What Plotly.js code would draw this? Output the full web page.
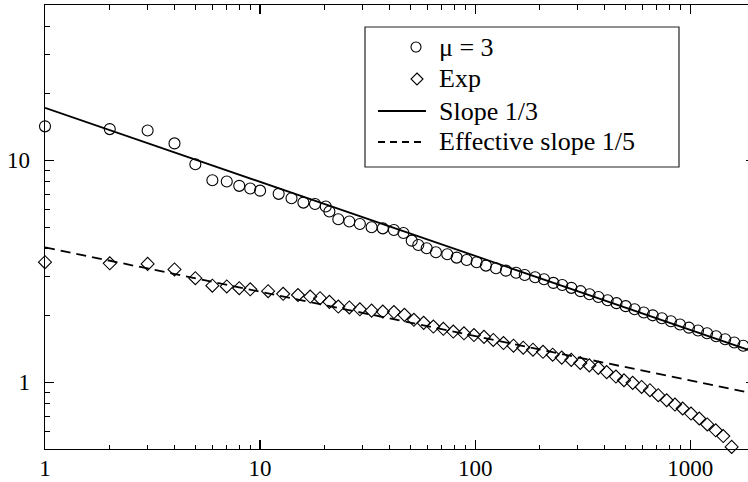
<!DOCTYPE html>
<html>
<head>
<meta charset="utf-8">
<script src="https://cdn.plot.ly/plotly-3.0.1.min.js"></script>
<style>
html, body { margin: 0; padding: 0; overflow: hidden; background: #fff; }
#chart { width: 760px; height: 482px; }
</style>
</head>
<body>
<div id="chart"></div>
<script>
// ---- data ----
var circX = [1,2,3,4,5,6,7,8,9,10,12.2,14.0,15.9,18.0,20.2,21.0,23.1,26.0,29.1,33.0,37.2,41.9,46.4,50.7,54.4,59.5,65.7,74.2,82.0,91.3,101.6,112.2,125,139,155,170,190,209,231,254,280,309,340,374,413,454,501,551,608,669,738,813,896,986,1087,1197,1319,1453,1602,1764];
var circY = [14.2,13.8,13.6,11.9,9.59,8.12,8.01,7.66,7.45,7.29,7.05,6.74,6.44,6.35,6.18,5.87,5.42,5.29,5.16,4.99,4.93,4.85,4.70,4.34,4.15,4.01,3.85,3.77,3.64,3.55,3.47,3.35,3.26,3.18,3.11,3.04,2.97,2.91,2.80,2.74,2.66,2.57,2.49,2.42,2.34,2.27,2.20,2.13,2.06,2.00,1.94,1.88,1.82,1.76,1.71,1.66,1.61,1.56,1.51,1.46];

var diamX = [1,2,3,4,5,6,7,8,9,10.9,12.8,15.0,17.1,19.0,21.0,23.1,26.0,29.1,33.0,37.2,41.9,46.9,51.9,57.6,63.9,71.1,79.1,88.7,98.7,109.9,121.4,135.4,150.7,167.3,185.7,206.7,229.3,252.5,279.8,308.1,339.3,373.6,408.7,451.4,491.8,539.8,594.3,649.4,710,776.9,848.9,921.8,1008,1101,1200,1313,1423,1558];
var diamY = [3.47,3.43,3.41,3.22,2.94,2.72,2.70,2.65,2.62,2.57,2.50,2.47,2.43,2.39,2.30,2.19,2.17,2.13,2.10,2.08,2.07,2.01,1.91,1.85,1.78,1.74,1.69,1.66,1.63,1.60,1.55,1.50,1.46,1.43,1.40,1.37,1.33,1.29,1.26,1.22,1.19,1.16,1.11,1.06,1.02,0.993,0.952,0.920,0.874,0.829,0.793,0.761,0.722,0.686,0.645,0.607,0.572,0.511];

var slopeX = [1, 2000];
var slopeY = [17.2, 1.365];
var effX = [1, 2000];
var effY = [4.05, 0.886];

var legendLabels = ["\u03bc = 3", "Exp", "Slope 1/3", "Effective slope 1/5"];

// ---- styling ----
var FONT = "Liberation Serif, 'Times New Roman', Times, serif";
var DASH = "10px,6px";

var traces = [
  {x: slopeX, y: slopeY, name: legendLabels[2], mode: "lines",
   line: {color: "black", width: 1.8}, hoverinfo: "skip"},
  {x: effX, y: effY, name: legendLabels[3], mode: "lines",
   line: {color: "black", width: 1.8, dash: DASH}, hoverinfo: "skip"},
  {x: circX, y: circY, name: legendLabels[0], mode: "markers", cliponaxis: false,
   marker: {symbol: "circle-open", size: 11, color: "black", line: {width: 1.1, color: "black"}}},
  {x: diamX, y: diamY, name: legendLabels[1], mode: "markers", cliponaxis: false,
   marker: {symbol: "diamond-open", size: 10, color: "black", line: {width: 1.1, color: "black"}}}
];

// plot area in pixels: left 45, top 5, width 710, height 444
var L = 45, T = 5, W = 710, H = 444;
function px(p) { return (p - L) / W; }
function py(p) { return (T + H - p) / H; }

// custom legend (box, symbols, labels)
var rowY = [47, 79, 111, 142];
var shapes = [
  {type: "rect", xref: "paper", yref: "paper", x0: px(365), x1: px(679), y0: py(167), y1: py(27),
   line: {color: "#222", width: 1.2}, fillcolor: "white", layer: "above"},
  {type: "circle", xref: "paper", yref: "paper", xsizemode: "pixel", ysizemode: "pixel",
   xanchor: px(416), yanchor: py(rowY[0]), x0: -5, x1: 5, y0: -5, y1: 5,
   line: {color: "black", width: 1.1}, layer: "above"},
  {type: "path", xref: "paper", yref: "paper", xsizemode: "pixel", ysizemode: "pixel",
   xanchor: px(417), yanchor: py(rowY[1]), path: "M0,6L6,0L0,-6L-6,0Z",
   line: {color: "black", width: 1.1}, layer: "above"},
  {type: "line", xref: "paper", yref: "paper", x0: px(378), x1: px(426), y0: py(rowY[2]), y1: py(rowY[2]),
   line: {color: "black", width: 1.8}, layer: "above"},
  {type: "line", xref: "paper", yref: "paper", x0: px(378), x1: px(426), y0: py(rowY[3]), y1: py(rowY[3]),
   line: {color: "black", width: 1.8, dash: "7px,5px"}, layer: "above"}
];
var annotations = legendLabels.map(function (t, i) {
  return {text: t, xref: "paper", yref: "paper", x: px(437), y: py(rowY[i]),
          xanchor: "left", yanchor: "middle", showarrow: false,
          font: {family: FONT, size: 26, color: "black"}};
});

function axisBase() {
  return {
    type: "log", dtick: 1, tick0: 0,
    ticks: "inside", ticklen: 9, tickwidth: 1.2, tickcolor: "black",
    showline: true, linecolor: "black", linewidth: 1.3, mirror: "allticks",
    showgrid: false, zeroline: false, exponentformat: "none",
    tickfont: {family: FONT, size: 23, color: "black"},
    minor: {ticks: "inside", ticklen: 4.5, tickwidth: 1, tickcolor: "black", dtick: "D1", showgrid: false},
    fixedrange: true
  };
}
var xa = axisBase();
xa.range = [0, Math.log10(2000)];
xa.ticklabelstandoff = -2;
var ya = axisBase();
ya.range = [Math.log10(0.5), Math.log10(50)];
ya.ticklabelstandoff = 9;

var layout = {
  width: 760, height: 482,
  margin: {l: L, r: 760 - L - W, t: T, b: 482 - T - H, pad: 0},
  paper_bgcolor: "white", plot_bgcolor: "white",
  showlegend: false,
  xaxis: xa, yaxis: ya,
  shapes: shapes, annotations: annotations,
  font: {family: FONT, color: "black"}
};

Plotly.newPlot("chart", traces, layout, {staticPlot: true, displayModeBar: false});
</script>
</body>
</html>
